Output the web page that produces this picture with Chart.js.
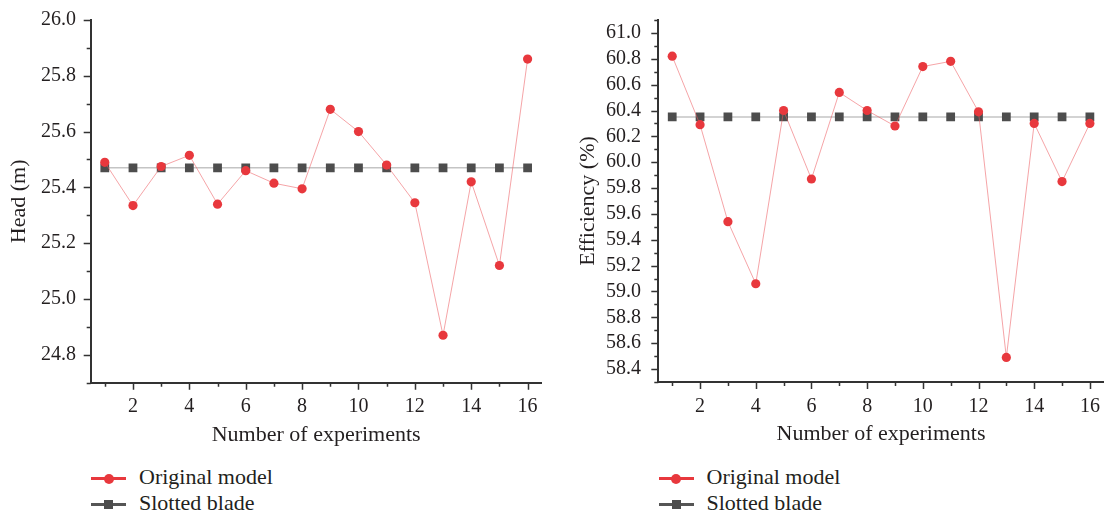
<!DOCTYPE html>
<html>
<head>
<meta charset="utf-8">
<script src="https://cdn.jsdelivr.net/npm/chart.js@4.4.1/dist/chart.umd.min.js"></script>
<style>
html,body{margin:0;padding:0;background:#fff;}
body{width:1110px;height:516px;position:relative;overflow:hidden;font-family:"Liberation Serif","Times New Roman",serif;color:#231f20;}
.panel{position:absolute;top:0;height:460px;}
#p1{left:0;width:560px;}
#p2{left:560px;width:550px;}
.legtext{position:absolute;font-size:22px;line-height:26px;white-space:nowrap;color:#231f20;}
.lline{position:absolute;height:2.5px;width:35px;}
.mk{position:absolute;}
</style>
</head>
<body>
<div class="panel" id="p1"><canvas id="c1"></canvas></div>
<div class="panel" id="p2"><canvas id="c2"></canvas></div>
<div id="legends"></div>
<script>
// ---- data ----
const categories = [1, 2, 3, 4, 5, 6, 7, 8, 9, 10, 11, 12, 13, 14, 15, 16];
const seriesNames = ['Original model', 'Slotted blade'];
const headOriginal = [25.49, 25.335, 25.475, 25.515, 25.34, 25.46, 25.415, 25.395, 25.68, 25.60, 25.48, 25.345, 24.87, 25.42, 25.12, 25.86];
const headSlotted  = [25.47, 25.47, 25.47, 25.47, 25.47, 25.47, 25.47, 25.47, 25.47, 25.47, 25.47, 25.47, 25.47, 25.47, 25.47, 25.47];
const effOriginal  = [60.82, 60.29, 59.54, 59.06, 60.40, 59.87, 60.54, 60.40, 60.28, 60.74, 60.78, 60.39, 58.49, 60.30, 59.85, 60.30];
const effSlotted   = [60.35, 60.35, 60.35, 60.35, 60.35, 60.35, 60.35, 60.35, 60.35, 60.35, 60.35, 60.35, 60.35, 60.35, 60.35, 60.35];
const xTickLabels = ['2', '4', '6', '8', '10', '12', '14', '16'];
const headAxis = {min: 24.7, max: 26.0, title: 'Head (m)'};
const effAxis  = {min: 58.3, max: 61.1, title: 'Efficiency (%)'};
const xTitle = 'Number of experiments';

// ---- styling ----
const FONT = '"Liberation Serif", "Times New Roman", serif';
const TXT = '#231f20';
const AXIS = '#333333';
const RED = '#e8383d';
const RED_LINE = 'rgba(236,90,95,0.55)';
const GRAY = '#4d4d4d';
const GRAY_LINE = '#c4c4c4';

const tickMarks = {
  id: 'tickMarks',
  afterDraw(chart) {
    const ctx = chart.ctx;
    const xs = chart.scales.x, ys = chart.scales.y;
    const {left, bottom} = chart.chartArea;
    ctx.save();
    ctx.strokeStyle = AXIS;
    ctx.lineWidth = 1.5;
    ctx.beginPath();
    xs.ticks.forEach((t, i) => {
      const px = Math.round(xs.getPixelForTick(i)) + 0.5;
      const len = xTickLabels.includes(String(t.value)) ? 7 : 4;
      ctx.moveTo(px, bottom);
      ctx.lineTo(px, bottom + len);
    });
    ys.ticks.forEach((t, i) => {
      const py = Math.round(ys.getPixelForTick(i)) + 0.5;
      const len = Math.round(t.value * 10) % 2 === 0 ? 7 : 4;
      ctx.moveTo(left, py);
      ctx.lineTo(left - len, py);
    });
    ctx.stroke();
    ctx.restore();
  }
};

function makeChart(id, orig, slot, axis, g) {
  const ptsO = categories.map((c, i) => ({x: c, y: orig[i]}));
  const ptsS = categories.map((c, i) => ({x: c, y: slot[i]}));
  return new Chart(document.getElementById(id), {
    type: 'line',
    data: {
      datasets: [
        {label: seriesNames[0], data: ptsO, borderColor: RED_LINE, borderWidth: 1,
         pointBackgroundColor: RED, pointBorderColor: RED, pointBorderWidth: 0,
         pointRadius: 4.6, pointStyle: 'circle', tension: 0},
        {label: seriesNames[1], data: ptsS, borderColor: GRAY_LINE, borderWidth: 1.5,
         pointBackgroundColor: GRAY, pointBorderColor: GRAY, pointBorderWidth: 0,
         pointRadius: 6.2, pointStyle: 'rect', tension: 0}
      ]
    },
    options: {
      responsive: true,
      maintainAspectRatio: false,
      animation: false,
      events: [],
      layout: {padding: {left: 0, top: 20, right: g.padRight, bottom: 0}},
      plugins: {legend: {display: false}, tooltip: {enabled: false}},
      scales: {
        x: {
          type: 'linear', min: 0.5, max: 16.5,
          grid: {display: false, drawTicks: false},
          border: {display: true, color: AXIS, width: 2},
          afterBuildTicks: (s) => { s.ticks = categories.map(v => ({value: v})); },
          afterFit: (s) => { s.height = g.xH; s.paddingLeft = 0; s.paddingRight = 0; },
          ticks: {
            autoSkip: false, maxRotation: 0, padding: g.xTickPad, color: TXT,
            font: {family: FONT, size: 20},
            callback: (v) => xTickLabels.includes(String(v)) ? String(v) : ''
          },
          title: {display: true, text: xTitle, color: TXT, font: {family: FONT, size: 22},
                  padding: {top: 0, bottom: g.xTitlePad}}
        },
        y: {
          type: 'linear', min: axis.min, max: axis.max,
          grid: {display: false, drawTicks: false},
          border: {display: true, color: AXIS, width: 2},
          afterBuildTicks: (s) => {
            const t = [];
            const a = Math.round(axis.min * 10), b = Math.round(axis.max * 10);
            for (let k = a; k <= b; k++) t.push({value: k / 10});
            s.ticks = t;
          },
          afterFit: (s) => { s.width = g.yW; s.paddingTop = 0; s.paddingBottom = 0; },
          ticks: {
            autoSkip: false, padding: g.yTickPad, color: TXT,
            font: {family: FONT, size: 20},
            callback: (v) => Math.round(v * 10) % 2 === 0 ? Number(v).toFixed(1) : ''
          },
          title: {display: true, text: axis.title, color: TXT, font: {family: FONT, size: 22},
                  padding: {top: g.yTitlePad, bottom: 0}}
        }
      }
    },
    plugins: [tickMarks]
  });
}

makeChart('c1', headOriginal, headSlotted, headAxis,
  {padRight: 18.3, xH: 77.3, xTickPad: 12.3, xTitlePad: 11.8, yW: 90.7, yTickPad: 14.7, yTitlePad: 5.8});
makeChart('c2', effOriginal, effSlotted, effAxis,
  {padRight: 3.3, xH: 78, xTickPad: 12.5, xTitlePad: 12.8, yW: 98.3, yTickPad: 17.3, yTitlePad: 14.8});

// ---- legends (HTML) ----
function addLegend(x0) {
  const host = document.getElementById('legends');
  const rows = [
    {name: seriesNames[0], color: RED, cy: 478.5, shape: 'circle'},
    {name: seriesNames[1], color: '#555555', cy: 504.5, shape: 'rect'}
  ];
  rows.forEach(r => {
    const l = document.createElement('div');
    l.className = 'lline';
    l.style.left = x0 + 'px';
    l.style.top = (r.cy - 1.25) + 'px';
    l.style.background = r.color;
    host.appendChild(l);
    const m = document.createElement('div');
    m.className = 'mk';
    const sz = r.shape === 'circle' ? 10 : 9;
    m.style.width = sz + 'px'; m.style.height = sz + 'px';
    m.style.left = (x0 + 17.5 - sz / 2) + 'px';
    m.style.top = (r.cy - sz / 2) + 'px';
    m.style.background = r.shape === 'circle' ? RED : GRAY;
    if (r.shape === 'circle') m.style.borderRadius = '50%';
    host.appendChild(m);
    const t = document.createElement('div');
    t.className = 'legtext';
    t.textContent = r.name;
    t.style.left = (x0 + 48) + 'px';
    t.style.top = (r.cy - 14.5) + 'px';
    host.appendChild(t);
  });
}
addLegend(91);
addLegend(658.5);
</script>
</body>
</html>
